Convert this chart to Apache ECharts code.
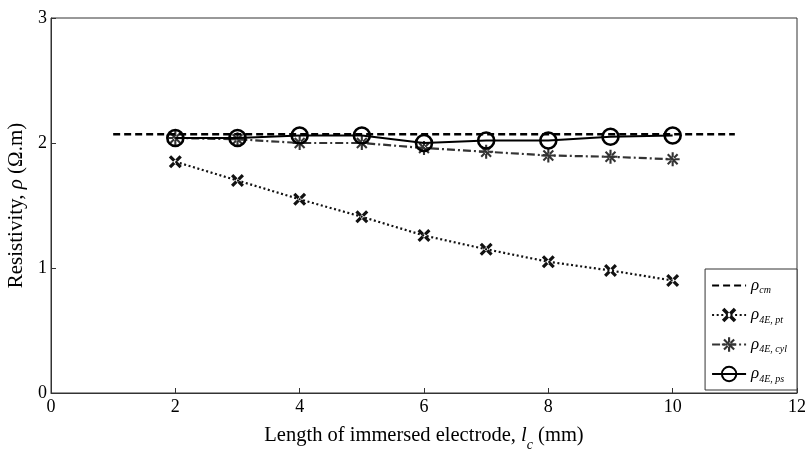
<!DOCTYPE html>
<html><head><meta charset="utf-8">
<script src="https://cdn.jsdelivr.net/npm/echarts@6/dist/echarts.min.js"></script>
<style>html,body{margin:0;padding:0;background:#fff}#c{width:808px;height:449px}</style>
</head><body><div id="c"></div>
<script>
const lengths = [2, 3, 4, 5, 6, 7, 8, 9, 10];
const cmX = [1, 11];
const cmY = [2.07, 2.07];
const pt = [1.85, 1.70, 1.55, 1.41, 1.26, 1.15, 1.05, 0.98, 0.90];
const cyl = [2.04, 2.03, 2.00, 2.00, 1.96, 1.93, 1.90, 1.89, 1.87];
const ps = [2.04, 2.04, 2.06, 2.06, 2.00, 2.02, 2.02, 2.05, 2.06];
const xTicks = [0, 2, 4, 6, 8, 10, 12];
const yTicks = [0, 1, 2, 3];

const pairs = (xs, ys) => xs.map((x, i) => [x, ys[i]]);
const FONT = 'Liberation Serif';
const asterisk = 'path://M-1.5,-10L1.5,-10L1.5,10L-1.5,10Z M-10,-1.5L10,-1.5L10,1.5L-10,1.5Z M-8.1,-6L-6,-8.1L8.1,6L6,8.1Z M8.1,-6L6,-8.1L-8.1,6L-6,8.1Z';
const cross = 'path://M-10,-6.5L-6.5,-10L10,6.5L6.5,10Z M10,-6.5L6.5,-10L-10,6.5L-6.5,10Z';

const chart = echarts.init(document.getElementById('c'), null, {renderer: 'canvas'});
const rich = {
  r: {fontFamily: FONT, fontStyle: 'italic', fontSize: 17, color: '#000'},
  s: {fontFamily: FONT, fontStyle: 'italic', fontSize: 10, color: '#000', padding: [10, 0, 0, 0]}
};
const legendSub = {'ρcm': 'cm', 'ρ4E,pt': '4E, pt', 'ρ4E,cyl': '4E, cyl', 'ρ4E,ps': '4E, ps'};
chart.setOption({
  animation: false,
  backgroundColor: '#fff',
  grid: {left: 51, right: 11, top: 18, bottom: 56, containLabel: false, outerBoundsMode: 'none',
         show: true, borderColor: '#333', borderWidth: 1},
  xAxis: {
    type: 'value', min: 0, max: 12, interval: 2,
    name: '{t|Length of immersed electrode, }{i|l}{c|c}{t| (mm)}',
    nameLocation: 'middle', nameGap: 27,
    nameTextStyle: {rich: {
      t: {fontFamily: FONT, fontSize: 20.5, color: '#000'},
      i: {fontFamily: FONT, fontSize: 20.5, fontStyle: 'italic', color: '#000'},
      c: {fontFamily: FONT, fontSize: 14, fontStyle: 'italic', color: '#000', padding: [18, 0, 0, 0]}
    }},
    axisLine: {lineStyle: {color: '#333'}},
    axisTick: {inside: true, length: 5, lineStyle: {color: '#333'}},
    axisLabel: {fontFamily: FONT, fontSize: 18, color: '#000', margin: 5},
    splitLine: {show: false}
  },
  yAxis: {
    type: 'value', min: 0, max: 3, interval: 1,
    name: '{t|Resistivity, }{i|ρ}{t| (Ω.m)}',
    nameLocation: 'middle', nameGap: 19, nameRotate: 90,
    nameTextStyle: {rich: {
      t: {fontFamily: FONT, fontSize: 21, color: '#000'},
      i: {fontFamily: FONT, fontSize: 21, fontStyle: 'italic', color: '#000'}
    }},
    axisLine: {lineStyle: {color: '#333'}},
    axisTick: {inside: true, length: 5, lineStyle: {color: '#333'}},
    axisLabel: {fontFamily: FONT, fontSize: 18, color: '#000', margin: 4},
    splitLine: {show: false}
  },
  legend: {
    orient: 'vertical', right: 11, bottom: 59, width: 100,
    padding: [8, 10, 6, 6], itemGap: 11, itemWidth: 34, itemHeight: 18,
    backgroundColor: '#fff', borderColor: '#333', borderWidth: 1,
    data: [
      {name: 'ρcm', itemStyle: {color: 'rgba(0,0,0,0)', borderColor: 'rgba(0,0,0,0)', borderWidth: 0}},
      {name: 'ρ4E,pt'}, {name: 'ρ4E,cyl'}, {name: 'ρ4E,ps'}
    ],
    formatter: n => '{r|ρ}{s|' + legendSub[n] + '}',
    textStyle: {rich: rich}
  },
  series: [
    {name: 'ρcm', type: 'line', data: pairs(cmX, cmY), symbol: 'none',
     lineStyle: {color: '#000', width: 2.6, type: [7, 4]}, itemStyle: {color: '#000'}, z: 5},
    {name: 'ρ4E,pt', type: 'line', data: pairs(lengths, pt), symbol: cross, symbolSize: 13,
     lineStyle: {color: '#111', width: 2.2, type: [2, 2.6]}, itemStyle: {color: '#111'}, z: 4},
    {name: 'ρ4E,cyl', type: 'line', data: pairs(lengths, cyl), symbol: asterisk, symbolSize: 14,
     lineStyle: {color: '#333', width: 2.2, type: [8, 3, 2, 3]}, itemStyle: {color: '#333'}, z: 3},
    {name: 'ρ4E,ps', type: 'line', data: pairs(lengths, ps), symbol: 'circle', symbolSize: 16,
     lineStyle: {color: '#000', width: 2.2}, itemStyle: {color: 'rgba(255,255,255,0)', borderColor: '#000', borderWidth: 2.6}, z: 6}
  ]
});
</script></body></html>
